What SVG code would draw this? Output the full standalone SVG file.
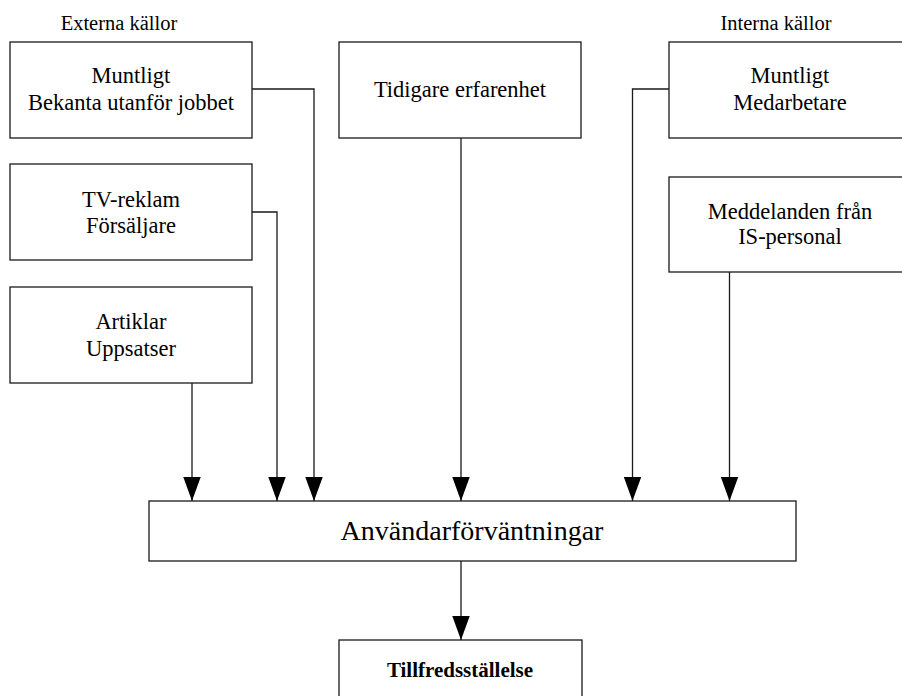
<svg xmlns="http://www.w3.org/2000/svg" width="902" height="696" viewBox="0 0 902 696">
<style>
.box{fill:#fff;stroke:#1a1a1a;stroke-width:1.3}
.t{font-family:"Liberation Serif","Times New Roman",serif;font-size:22.5px;fill:#000;text-anchor:middle}
.lbl{font-family:"Liberation Serif","Times New Roman",serif;font-size:20.5px;fill:#000;text-anchor:middle}
.big{font-family:"Liberation Serif","Times New Roman",serif;font-size:28px;fill:#000;text-anchor:middle}
.bold{font-family:"Liberation Serif","Times New Roman",serif;font-size:21px;font-weight:bold;fill:#000;text-anchor:middle}
.c{fill:none;stroke:#1a1a1a;stroke-width:1.3}
</style>
<defs>
<marker id="arr" markerUnits="userSpaceOnUse" markerWidth="24" markerHeight="18" viewBox="0 0 22 16" refX="22" refY="8" orient="auto">
<path d="M0,0 L22,8 L0,16 Z" fill="#000"/>
</marker>
</defs>
<rect width="902" height="696" fill="#fff"/>
<text class="lbl" x="119" y="30">Externa källor</text>
<text class="lbl" x="776" y="30">Interna källor</text>
<g id="n-muntligt-ext">
<rect class="box" x="10" y="42" width="242" height="96"/>
<text class="t" x="131" y="83">Muntligt</text>
<text class="t" x="131" y="110">Bekanta utanför jobbet</text>
</g>
<g id="n-tidigare">
<rect class="box" x="339" y="42" width="242" height="96"/>
<text class="t" x="460" y="97">Tidigare erfarenhet</text>
</g>
<g id="n-muntligt-int">
<rect class="box" x="669" y="42" width="242" height="96"/>
<text class="t" x="790" y="83">Muntligt</text>
<text class="t" x="790" y="110">Medarbetare</text>
</g>
<g id="n-tv">
<rect class="box" x="10" y="164" width="242" height="96"/>
<text class="t" x="131" y="207">TV-reklam</text>
<text class="t" x="131" y="233">Försäljare</text>
</g>
<g id="n-meddelanden">
<rect class="box" x="669" y="177" width="242" height="95"/>
<text class="t" x="790" y="219">Meddelanden från</text>
<text class="t" x="790" y="244">IS-personal</text>
</g>
<g id="n-artiklar">
<rect class="box" x="10" y="287" width="242" height="96"/>
<text class="t" x="131" y="329">Artiklar</text>
<text class="t" x="131" y="356">Uppsatser</text>
</g>
<g id="n-anvandar">
<rect class="box" x="149" y="501" width="647" height="60"/>
<text class="big" x="472" y="540">Användarförväntningar</text>
</g>
<g id="n-tillfreds">
<rect class="box" x="339" y="640" width="243" height="70"/>
<text class="bold" x="460" y="677">Tillfredsställelse</text>
</g>
<g id="connectors">
<path class="c" d="M252,89 H314 V501" marker-end="url(#arr)"/>
<path class="c" d="M252,212 H277 V501" marker-end="url(#arr)"/>
<path class="c" d="M192,383 V501" marker-end="url(#arr)"/>
<path class="c" d="M461,138 V501" marker-end="url(#arr)"/>
<path class="c" d="M669,89 H632.5 V501" marker-end="url(#arr)"/>
<path class="c" d="M729.5,272 V501" marker-end="url(#arr)"/>
<path class="c" d="M461,561 V640" marker-end="url(#arr)"/>
</g>
</svg>
